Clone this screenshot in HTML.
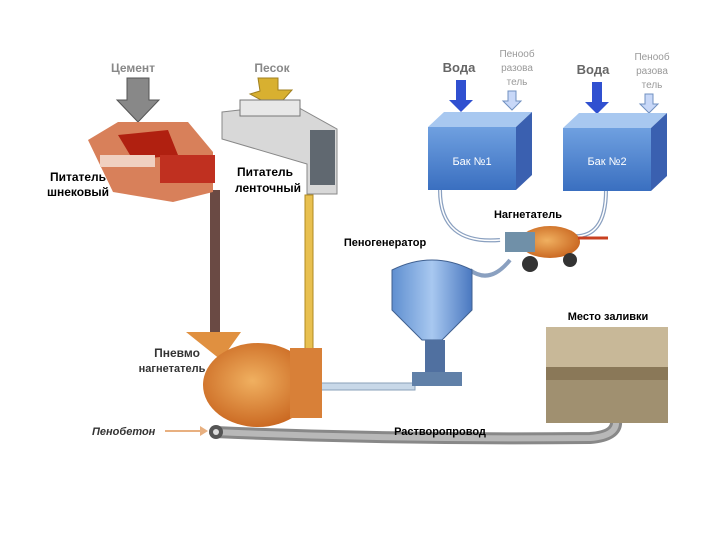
<!DOCTYPE html>
<html><head><meta charset="utf-8"><style>
body{margin:0;background:#fff}
svg{display:block}
text{font-family:"Liberation Sans","DejaVu Sans",sans-serif}
</style></head><body>
<svg width="720" height="540" viewBox="0 0 720 540" xmlns="http://www.w3.org/2000/svg">
<defs>
<linearGradient id="blue" x1="0" y1="0" x2="0" y2="1"><stop offset="0" stop-color="#6fa0e0"/><stop offset="1" stop-color="#3a6fc0"/></linearGradient>
<linearGradient id="tank" x1="0" y1="0" x2="1" y2="0"><stop offset="0" stop-color="#5f8fd0"/><stop offset=".5" stop-color="#a8c8f0"/><stop offset="1" stop-color="#4a78c0"/></linearGradient>
<radialGradient id="or" cx=".45" cy=".45" r=".6"><stop offset="0" stop-color="#f0b060"/><stop offset="1" stop-color="#c8641e"/></radialGradient>
</defs>
<!-- vertical pipes -->
<rect x="210" y="190" width="10" height="145" fill="#6a4a44"/>
<rect x="305" y="195" width="8" height="155" fill="#e8c050" stroke="#b08a20"/>
<!-- lower hose -->
<path d="M215 432 Q400 440 590 438 Q618 436 616 420" fill="none" stroke="#888" stroke-width="12" stroke-linecap="round"/>
<path d="M215 432 Q400 440 590 438 Q618 436 616 420" fill="none" stroke="#b8b8b8" stroke-width="6" stroke-linecap="round"/>
<!-- horizontal pipe to foam generator -->
<rect x="320" y="383" width="95" height="7" fill="#c8d8e8" stroke="#8aa0b8"/>
<!-- loops from tanks -->
<path d="M440 190 Q440 245 500 240" fill="none" stroke="#8aa0c0" stroke-width="4"/>
<path d="M440 190 Q440 245 500 240" fill="none" stroke="#fff" stroke-width="1.5"/>
<path d="M606 190 Q606 240 570 236" fill="none" stroke="#8aa0c0" stroke-width="4"/>
<path d="M606 190 Q606 240 570 236" fill="none" stroke="#fff" stroke-width="1.5"/>
<path d="M510 260 Q490 285 470 270" fill="none" stroke="#8aa0c0" stroke-width="4"/>
<!-- labels top -->
<text x="133" y="72" font-size="12" font-weight="bold" fill="#888" text-anchor="middle">Цемент</text>
<text x="272" y="72" font-size="12" font-weight="bold" fill="#888" text-anchor="middle">Песок</text>
<!-- cement arrow -->
<path d="M127 78h22v22h10l-21 22-21-22h10z" fill="#888" stroke="#555"/>
<!-- sand arrow -->
<path d="M258 78h20v12l14 0-16 18-26-14 10-3z" fill="#d8b030" stroke="#a08020"/>
<!-- screw feeder -->
<path d="M88 140l30-18 70 0 25 30 0 40-40 10-60-10z" fill="#d8805a"/>
<path d="M118 135l50-5 10 25-45 5z" fill="#b02010"/>
<rect x="160" y="155" width="55" height="28" fill="#c03020"/>
<rect x="100" y="155" width="55" height="12" fill="#f0d0c0"/>
<!-- belt feeder -->
<path d="M222 112l70-8 45 25 0 65-30 0 0-30-85-25z" fill="#d8d8d8" stroke="#888"/>
<rect x="240" y="100" width="60" height="16" fill="#e8e8e8" stroke="#777"/>
<rect x="310" y="130" width="25" height="55" fill="#606870"/>
<text x="78" y="181" font-size="12" font-weight="bold" text-anchor="middle">Питатель</text>
<text x="78" y="196" font-size="12" font-weight="bold" text-anchor="middle">шнековый</text>
<text x="265" y="176" font-size="12" font-weight="bold" text-anchor="middle">Питатель</text>
<text x="268" y="192" font-size="12" font-weight="bold" text-anchor="middle">ленточный</text>
<!-- tank labels -->
<text x="459" y="72" font-size="13" font-weight="bold" fill="#666" text-anchor="middle">Вода</text>
<text x="517" y="57" font-size="10" fill="#999" text-anchor="middle">Пенооб</text>
<text x="517" y="71" font-size="10" fill="#999" text-anchor="middle">разова</text>
<text x="517" y="85" font-size="10" fill="#999" text-anchor="middle">тель</text>
<text x="593" y="74" font-size="13" font-weight="bold" fill="#666" text-anchor="middle">Вода</text>
<text x="652" y="60" font-size="10" fill="#999" text-anchor="middle">Пенооб</text>
<text x="652" y="74" font-size="10" fill="#999" text-anchor="middle">разова</text>
<text x="652" y="88" font-size="10" fill="#999" text-anchor="middle">тель</text>
<path d="M456 80h10v20h7l-12 12-12-12h7z" fill="#3050d0"/>
<path d="M508 91h8v10h5l-9 9-9-9h5z" fill="#c8d8f8" stroke="#7090c0"/>
<path d="M592 82h10v20h7l-12 12-12-12h7z" fill="#3050d0"/>
<path d="M645 94h8v10h5l-9 9-9-9h5z" fill="#c8d8f8" stroke="#7090c0"/>
<!-- tanks -->
<path d="M428 127l16-15h88l-16 15z" fill="#a8c8f0"/>
<path d="M516 127l16-15v63l-16 15z" fill="#3a60b0"/>
<rect x="428" y="127" width="88" height="63" fill="url(#blue)"/>
<text x="472" y="165" font-size="11" fill="#fff" text-anchor="middle">Бак №1</text>
<path d="M563 128l16-15h88l-16 15z" fill="#a8c8f0"/>
<path d="M651 128l16-15v63l-16 15z" fill="#3a60b0"/>
<rect x="563" y="128" width="88" height="63" fill="url(#blue)"/>
<text x="607" y="165" font-size="11" fill="#fff" text-anchor="middle">Бак №2</text>
<text x="528" y="218" font-size="11" font-weight="bold" text-anchor="middle">Нагнетатель</text>
<!-- pump -->
<ellipse cx="550" cy="242" rx="30" ry="16" fill="url(#or)"/>
<rect x="505" y="232" width="30" height="20" fill="#7090a8"/>
<circle cx="530" cy="264" r="8" fill="#333"/>
<circle cx="570" cy="260" r="7" fill="#333"/>
<path d="M578 238h30" stroke="#c84020" stroke-width="3"/>
<text x="385" y="246" font-size="11" font-weight="bold" text-anchor="middle">Пеногенератор</text>
<!-- foam generator -->
<path d="M392 270q40-20 80 0l0 40-30 30h-20l-30-30z" fill="url(#tank)" stroke="#406090"/>
<rect x="425" y="340" width="20" height="32" fill="#5070a0"/>
<rect x="412" y="372" width="50" height="14" fill="#6080a8"/>
<!-- place -->
<text x="608" y="320" font-size="11" font-weight="bold" text-anchor="middle">Место заливки</text>
<rect x="546" y="327" width="122" height="96" fill="#8a7858"/>
<rect x="546" y="327" width="122" height="40" fill="#c8b898"/>
<path d="M546 380h122v43H546z" fill="#a09070"/>
<!-- mixer -->
<path d="M186 332l55 0-20 28z" fill="#e09040"/>
<ellipse cx="258" cy="385" rx="55" ry="42" fill="url(#or)"/>
<rect x="290" y="348" width="32" height="70" fill="#d88038"/>
<text x="177" y="357" font-size="12" font-weight="bold" fill="#333" text-anchor="middle">Пневмо</text>
<text x="172" y="372" font-size="11" font-weight="bold" fill="#333" text-anchor="middle">нагнетатель</text>
<circle cx="216" cy="432" r="7" fill="#555"/><circle cx="216" cy="432" r="3" fill="#ddd"/>
<text x="92" y="435" font-size="11" font-weight="bold" font-style="italic" fill="#333">Пенобетон</text>
<path d="M165 431h35" stroke="#e8b080" stroke-width="2"/><path d="M200 426l8 5-8 5z" fill="#e8b080"/>
<text x="440" y="435" font-size="11" font-weight="bold" text-anchor="middle">Растворопровод</text>
</svg>
</body></html>
